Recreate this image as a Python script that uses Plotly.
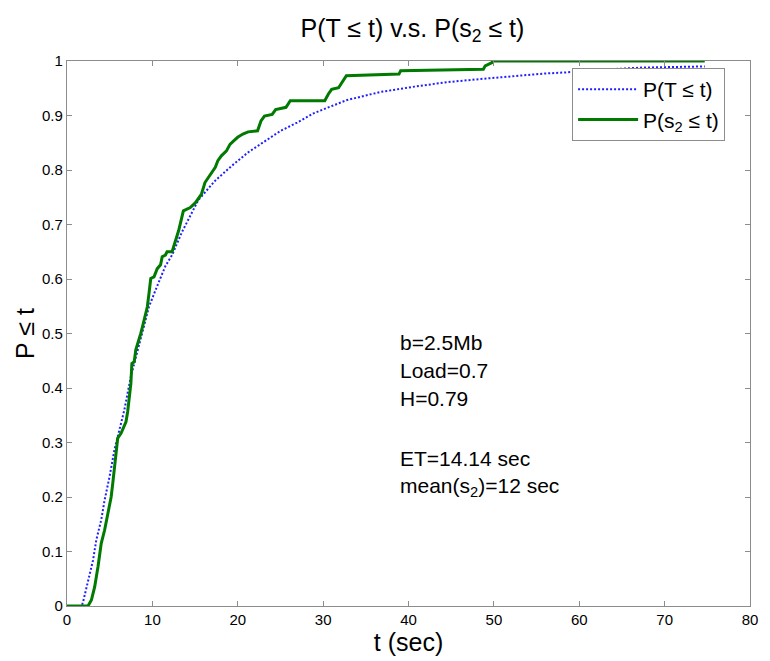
import plotly.graph_objects as go

# Empirical CDF of s2 (green, stepwise)
t_s2 = [0, 2.46, 2.86, 3.24, 3.63, 3.82, 4.01, 4.40, 4.78, 4.98, 5.17, 5.36, 5.55, 5.76, 5.94,
        6.33, 6.51, 6.91, 7.10, 7.29, 7.48, 7.60, 7.87, 8.06, 8.45, 8.64, 8.84, 9.14, 9.41,
        9.60, 9.81, 10.19, 10.57, 10.96, 11.15, 11.53, 11.72, 12.31, 12.69, 12.89, 13.08,
        13.63, 14.44, 15.05, 15.75, 16.16, 16.76, 17.37, 17.67, 18.08, 18.68, 19.09, 19.49,
        19.99, 20.60, 21.21, 22.32, 22.72, 23.13, 24.03, 24.44, 25.65, 26.15, 30.19, 30.60,
        31.00, 31.81, 32.21, 32.72, 38.88, 39.08, 48.77, 48.98, 49.78, 49.88, 74.7]
p_s2 = [0, 0.0, 0.011, 0.035, 0.072, 0.097, 0.115, 0.139, 0.170, 0.188, 0.200, 0.225, 0.256,
        0.286, 0.308, 0.317, 0.323, 0.338, 0.356, 0.384, 0.408, 0.445, 0.448, 0.470, 0.488,
        0.500, 0.512, 0.530, 0.549, 0.573, 0.601, 0.604, 0.619, 0.626, 0.641, 0.644, 0.650,
        0.650, 0.668, 0.676, 0.689, 0.725, 0.731, 0.740, 0.756, 0.777, 0.792, 0.805, 0.817,
        0.826, 0.835, 0.847, 0.853, 0.860, 0.866, 0.870, 0.872, 0.890, 0.899, 0.902, 0.911,
        0.915, 0.927, 0.927, 0.939, 0.948, 0.951, 0.960, 0.973, 0.976, 0.982, 0.985, 0.991,
        0.997, 1.0, 1.0]

# Model CDF of T (blue, dotted)
t_T = [0, 1.72, 1.89, 2.28, 2.67, 3.05, 3.43, 4.01, 4.40, 4.98, 5.55, 6.13, 6.72, 7.48, 8.26,
       8.84, 9.60, 10.38, 11.15, 11.53, 12.31, 13.46, 15.39, 17.33, 19.25, 21.18, 23.10,
       25.03, 26.96, 28.88, 32.72, 36.66, 40.70, 44.43, 48.47, 52.0, 55.94, 58.37, 62.6,
       67.45, 74.7]
p_T = [0, 0, 0.008, 0.035, 0.060, 0.084, 0.121, 0.158, 0.194, 0.237, 0.286, 0.323, 0.360,
       0.421, 0.470, 0.506, 0.549, 0.580, 0.612, 0.624, 0.644, 0.686, 0.745, 0.780, 0.807,
       0.832, 0.852, 0.872, 0.887, 0.904, 0.928, 0.943, 0.953, 0.961, 0.967, 0.972, 0.977,
       0.979, 0.984, 0.988, 0.990]

x_ticks = [0, 10, 20, 30, 40, 50, 60, 70, 80]
y_ticks = [0, 0.1, 0.2, 0.3, 0.4, 0.5, 0.6, 0.7, 0.8, 0.9, 1]
y_tick_labels = ["0", "0.1", "0.2", "0.3", "0.4", "0.5", "0.6", "0.7", "0.8", "0.9", "1"]

info_lines = ["b=2.5Mb", "Load=0.7", "H=0.79", "", "ET=14.14 sec", "mean(s<sub>2</sub>)=12 sec"]
info_y_px = [342, 370, 398, None, 459, 487]

FONT = "Liberation Sans, Arial, sans-serif"
L, R, T, B = 67, 758, 61, 606  # plot area in pixels

fig = go.Figure()
fig.add_trace(go.Scatter(x=t_T, y=p_T, mode="lines", name="P(T \u2264 t)",
                         line=dict(color="#2020ff", width=2, dash="2px,2px")))
fig.add_trace(go.Scatter(x=t_s2, y=p_s2, mode="lines", name="P(s<sub>2</sub> \u2264 t)",
                         line=dict(color="#007a00", width=3)))

axis_common = dict(showline=True, linecolor="#8c8c8c", linewidth=1.2, mirror="ticks",
                   ticks="inside", ticklen=5, tickcolor="#8c8c8c", showgrid=False,
                   zeroline=False, ticklabeloverflow="allow",
                   tickfont=dict(family=FONT, size=15, color="black"))

fig.update_xaxes(range=[0, 80], tickvals=x_ticks, ticktext=[str(v) for v in x_ticks],
                 title=dict(text="t (sec)", font=dict(family=FONT, size=25, color="black"), standoff=2),
                 **axis_common)
fig.update_yaxes(range=[0, 1], tickvals=y_ticks, ticktext=y_tick_labels,
                 title=dict(text="P \u2264 t", font=dict(family=FONT, size=25, color="black"), standoff=0),
                 **axis_common)

annotations = []
for line, ypix in zip(info_lines, info_y_px):
    if not line:
        continue
    annotations.append(dict(text=line, xref="paper", yref="paper",
                            x=(402 - L) / (R - L), y=(B - ypix) / (B - T),
                            xanchor="left", yanchor="middle", showarrow=False,
                            font=dict(family=FONT, size=21, color="black")))

fig.update_layout(
    width=770, height=661,
    margin=dict(l=L, r=770 - R, t=T, b=661 - B),
    paper_bgcolor="white", plot_bgcolor="white",
    title=dict(text="P(T \u2264 t) v.s. P(s<sub>2</sub> \u2264 t)", x=(L + R) / 2 / 770,
               xanchor="center", y=1 - 28 / 661, yanchor="middle",
               font=dict(family=FONT, size=25, color="black")),
    legend=dict(x=(578 - L) / (R - L), y=(B - 68) / (B - T), xanchor="left", yanchor="top",
                bordercolor="#8c8c8c", borderwidth=1, bgcolor="white", itemwidth=60,
                font=dict(family=FONT, size=21, color="black"), tracegroupgap=0),
    annotations=annotations,
    showlegend=True,
)

fig.write_html("out.html")
